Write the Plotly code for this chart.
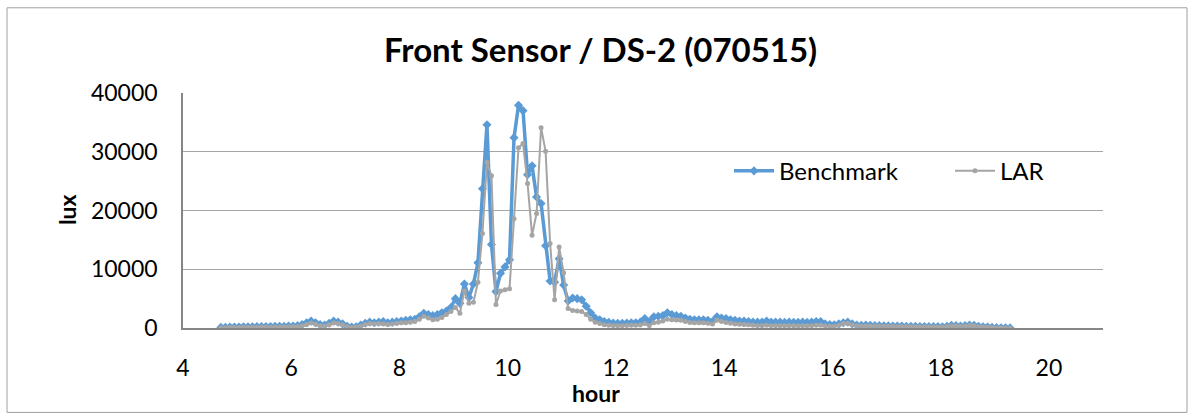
import plotly.graph_objects as go

# sampling: every 5 minutes starting 4:42 (hours)
start_hour = 4.7
step_minutes = 5

benchmark = [
    100, 120, 150, 150, 180, 200, 200, 220, 230, 250, 250, 260, 280, 300, 300, 320, 350,
    400, 600, 900, 1200, 900, 600, 500, 800, 1200, 1000, 700, 300, 150, 200, 500, 800, 1000, 900, 1000, 1100,
    900, 1000, 1100, 1200, 1300, 1400, 1500, 1900, 2500, 2300, 2100, 2300, 2600,
    2900, 3500, 5000, 4200, 7500, 5200, 7500, 11100,
    23700, 34600, 14200, 6200, 9300, 10400, 11600, 32400, 37900, 37000,
    26100, 27600, 22300, 21200, 14000, 8000, 7800, 11800, 7300, 4600,
    5100, 5000, 4800, 3700, 2600, 1700, 1400, 1100,
    950, 850, 800, 800, 850, 900, 900, 1000, 1600, 1100,
    1900, 2000, 2100, 2600, 2300, 2100, 2000, 1700, 1500, 1400,
    1400, 1400, 1300, 1100, 1900, 1700, 1600, 1400, 1300, 1200,
    1200, 1100, 1000, 1000, 1000, 1200, 1000, 1000, 1000, 950,
    1000, 950, 950, 1000, 950, 1000, 1100, 1100, 700, 600,
    550, 700, 900, 1000, 700, 500, 450, 500,
    450, 420, 400, 380, 360, 350, 330, 320, 300, 300, 280, 260, 250, 250, 240, 230, 220,
    300, 450, 400, 350, 400, 500, 450, 300, 200, 150, 100, 80, 50, 30, 20,
]

lar = [
    50, 60, 80, 90, 100, 110, 120, 130, 140, 150, 150, 160, 170, 180, 200, 210, 230,
    250, 400, 600, 850, 650, 400, 350, 550, 850, 750, 500, 200, 100, 150, 350, 600, 750, 700, 750, 700,
    600, 700, 800, 900, 900, 1000, 1100, 1500, 2000, 1700, 1400, 1500, 1800,
    2300, 2800, 3500, 2500, 6300, 4200, 4400, 7800,
    16100, 28200, 25900, 4000, 6300, 6500, 6700, 18600, 30700, 31400,
    24600, 15800, 19500, 34100, 30100, 14400, 4800, 13800, 9400, 3300,
    3000, 2900, 2800, 2300, 1500, 1000, 750, 550,
    450, 400, 380, 400, 420, 450, 450, 500, 750, 400,
    900, 1000, 1200, 1500, 1400, 1350, 1300, 1100, 950, 900,
    900, 900, 800, 700, 1300, 1100, 950, 800, 700, 650,
    600, 550, 450, 400, 400, 450, 400, 380, 380, 370,
    380, 370, 360, 380, 370, 400, 450, 450, 350, 300,
    300, 450, 750, 800, 550, 400, 350, 350,
    350, 330, 310, 300, 290, 280, 260, 250, 240, 230, 220, 210, 200, 200, 190, 180, 180,
    250, 380, 330, 300, 330, 420, 380, 250, 160, 120, 80, 60, 40, 20, 10,
]

hours = [start_hour + i * step_minutes / 60 for i in range(len(benchmark))]

x_ticks = [4, 6, 8, 10, 12, 14, 16, 18, 20]
y_ticks = [0, 10000, 20000, 30000, 40000]

FONT = "Lato"

fig = go.Figure()
fig.add_trace(go.Scatter(
    x=hours, y=benchmark, name="Benchmark", mode="lines+markers",
    line=dict(color="#5B9BD5", width=3.5),
    marker=dict(symbol="diamond", size=7, color="#5B9BD5"),
))
fig.add_trace(go.Scatter(
    x=hours, y=lar, name="LAR", mode="lines+markers",
    line=dict(color="#A5A5A5", width=2),
    marker=dict(symbol="circle", size=5, color="#A5A5A5"),
))

L, R, T, B = 183, 91, 92.5, 91.7
W, H = 1194, 420
pw, ph = W - L - R, H - T - B

def px_x(p):
    return (p - L) / pw

def px_y(p):
    return (H - B - p) / ph

fig.update_layout(
    width=W, height=H,
    margin=dict(l=L, r=R, t=T, b=B, pad=0, autoexpand=False),
    paper_bgcolor="white", plot_bgcolor="white",
    font=dict(family=FONT, size=23, color="#000000"),
    title=dict(text="<b>Front Sensor / DS-2 (070515)</b>", x=0.503, xanchor="center",
               y=1 - 50 / H, yanchor="middle", font=dict(family=FONT, size=33, color="#000000")),
    showlegend=True,
    legend=dict(orientation="h", x=px_x(729), xanchor="left", y=px_y(171), yanchor="middle",
                font=dict(family=FONT, size=24, color="#000000"), bgcolor="rgba(0,0,0,0)",
                itemwidth=40, entrywidth=166, entrywidthmode="pixels", tracegroupgap=0),
    xaxis=dict(range=[4, 21], tickvals=x_ticks, ticktext=[str(v) for v in x_ticks],
               showgrid=False, zeroline=False, showline=True, linecolor="#868686", linewidth=2,
               ticks="", ticklabelstandoff=18, fixedrange=True),
    yaxis=dict(range=[0, 40000], tickvals=y_ticks, ticktext=[str(v) for v in y_ticks],
               showgrid=True, gridcolor="#A6A6A6", gridwidth=1, zeroline=False,
               showline=True, linecolor="#868686", linewidth=1.5,
               ticks="", ticklabelstandoff=19, fixedrange=True),
    annotations=[
        dict(text="<b>hour</b>", x=px_x(596), y=px_y(394), xref="paper", yref="paper",
             xanchor="center", yanchor="middle", showarrow=False,
             font=dict(family=FONT, size=23, color="#000000")),
        dict(text="<b>lux</b>", x=px_x(67), y=px_y(210), xref="paper", yref="paper",
             xanchor="center", yanchor="middle", showarrow=False, textangle=-90,
             font=dict(family=FONT, size=23, color="#000000")),
    ],
    shapes=[
        dict(type="rect", xref="paper", yref="paper",
             x0=px_x(7), x1=px_x(1187), y0=px_y(413), y1=px_y(7),
             line=dict(color="#A0A0A0", width=1), fillcolor="rgba(0,0,0,0)", layer="below"),
    ],
)

fig.write_html("out.html")
